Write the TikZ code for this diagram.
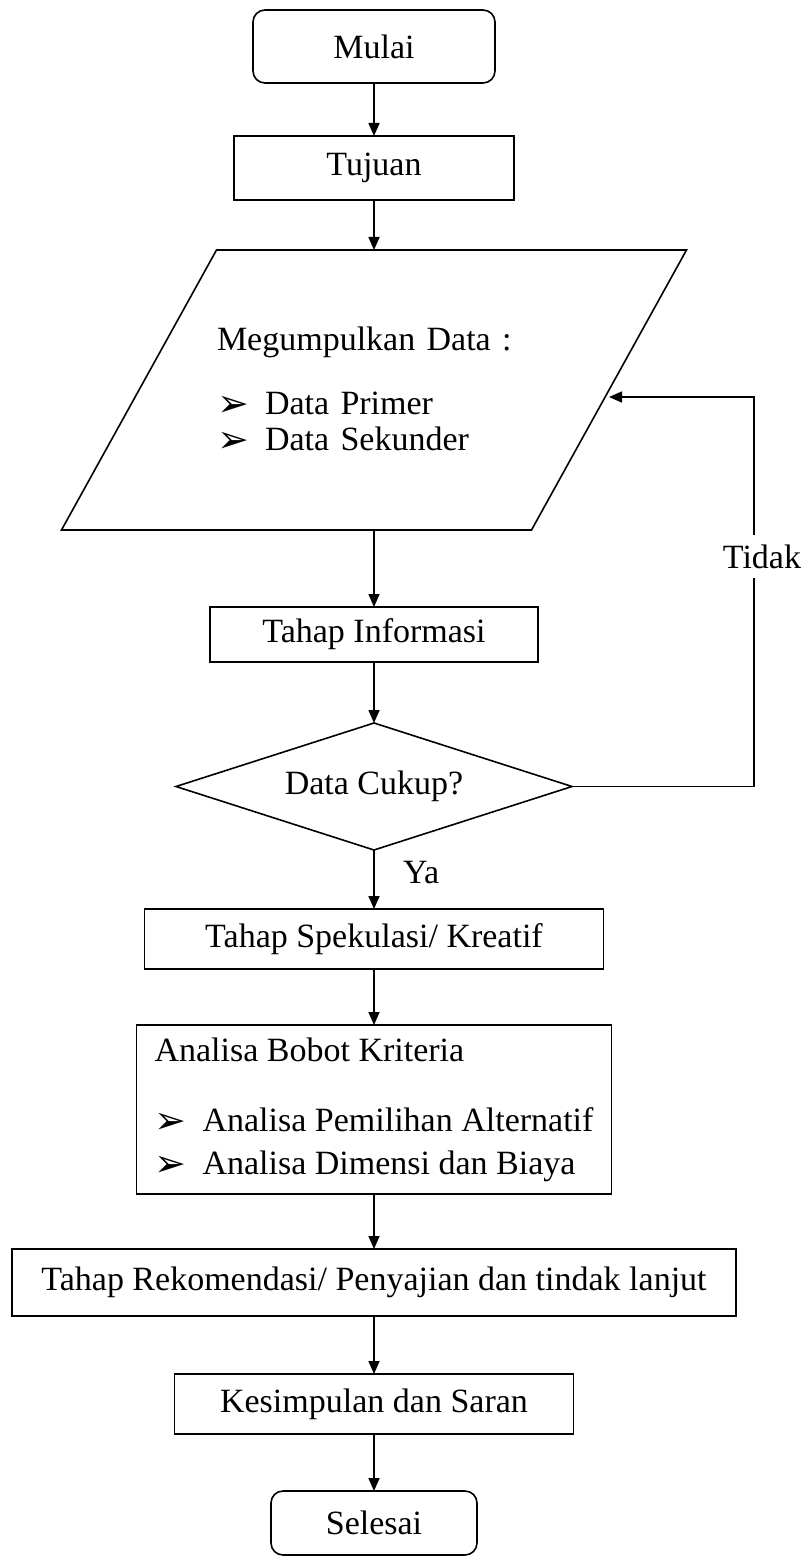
\documentclass[tikz,border=0pt]{standalone}
\usepackage{fontspec}
\setmainfont{Liberation Serif}
\newfontfamily\dingfont{DejaVu Sans}
\usetikzlibrary{arrows.meta, positioning, shapes.geometric, calc}

% bullet used in the lists
\newcommand{\tanda}{\makebox[24pt][l]{\dingfont\fontsize{19}{19}\selectfont\raisebox{-1pt}{➢}}}
% horizontal shift of the slanted sides of the input box
\newcommand{\miring}{38.75pt}

\begin{document}
\begin{tikzpicture}[
    node distance=28pt,
    font=\fontsize{17}{20}\selectfont,
    block/.style={rectangle, draw, line width=0.8pt, outer sep=0pt, align=center, minimum height=30pt},
    terminal/.style={block, rounded corners=6pt},
    io/.style={rectangle, outer sep=0pt, minimum width=235pt, minimum height=140pt},
    decision/.style={diamond, draw, line width=0.8pt, outer sep=0pt, aspect=3.1, minimum width=198pt, minimum height=63.5pt, inner sep=0pt},
    arrow/.style={-{Triangle[length=6.5pt, width=5.5pt]}, line width=0.8pt}
]
\useasboundingbox (0,0) rectangle (401.5pt,-778.5pt);
\node[terminal, minimum width=121pt, minimum height=36.5pt] (mulai) at (187pt,-23.25pt) {Mulai};
\node[block, below=26.5pt of mulai, minimum width=140pt, minimum height=32pt] (tujuan) {Tujuan};
\node[io, below=25pt of tujuan, text width=157pt, align=left] (data) {Megumpulkan Data :\\[12pt]\tanda Data Primer\\[-2pt]\tanda Data Sekunder};
\draw[line width=0.8pt] ([xshift=\miring]data.north west) -- ([xshift=\miring]data.north east)
    -- ([xshift=-\miring]data.south east) -- ([xshift=-\miring]data.south west) -- cycle;
\node[block, below=38.5pt of data, minimum width=164pt, minimum height=27.5pt] (info) {Tahap Informasi};
\node[decision, below=30.5pt of info] (cukup) {Data Cukup?};
\node[block, below=29.5pt of cukup, minimum width=229.5pt] (spek) {Tahap Spekulasi/ Kreatif};
\node[block, below=28pt of spek, minimum width=237.5pt, minimum height=84.5pt, inner ysep=3pt, align=left] (analisa) {Analisa Bobot Kriteria\\[15pt]\tanda Analisa Pemilihan Alternatif\\[1.5pt]\tanda Analisa Dimensi dan Biaya};
\node[block, below=27.5pt of analisa, minimum width=362pt, minimum height=33.5pt] (rekom) {Tahap Rekomendasi/ Penyajian dan tindak lanjut};
\node[block, below=29pt of rekom, minimum width=199.5pt] (simpul) {Kesimpulan dan Saran};
\node[terminal, below=28.5pt of simpul, minimum width=103pt, minimum height=32pt] (selesai) {Selesai};

\draw[arrow] (mulai) -- (tujuan);
\draw[arrow] (tujuan) -- (data);
\draw[arrow] (data) -- (info);
\draw[arrow] (info) -- (cukup);
\draw[arrow] (cukup) -- (spek);
\draw[arrow] (spek) -- (analisa);
\draw[arrow] (analisa) -- (rekom);
\draw[arrow] (rekom) -- (simpul);
\draw[arrow] (simpul) -- (selesai);

% loop back when the data is not enough
\coordinate (balik) at ([xshift=91pt]cukup.east);
\draw[arrow] (cukup.east) -- (balik) |- ([yshift=-3.5pt]data.east);
\node[fill=white, inner xsep=1pt, inner ysep=5pt, xshift=4pt] (tidak) at ($(balik)!0.58!(balik |- data.east)$) {Tidak};
\node[below right=2pt and 11pt of cukup.south] (ya) {Ya};
\end{tikzpicture}
\end{document}
